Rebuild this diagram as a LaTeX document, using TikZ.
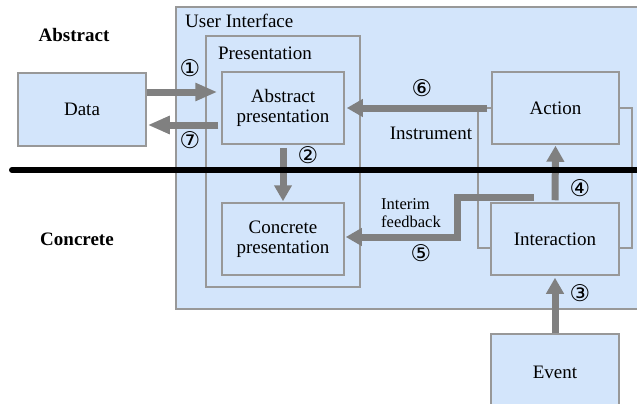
\documentclass[tikz,border=0pt]{standalone}
\usepackage{fontspec}
\setmainfont{Liberation Serif}
\newfontfamily\boxfont{Liberation Serif}
\newfontfamily\circfont{DejaVu Sans}
\usepackage{xcolor}
\usepackage{tikz}
\usetikzlibrary{positioning, shapes}
\usetikzlibrary{arrows.meta}
\definecolor{boxblue}{RGB}{211,229,251}
\definecolor{boxgray}{RGB}{152,152,152}
\definecolor{arrowgray}{RGB}{128,128,128}

\begin{document}
\begin{tikzpicture}[x=1pt,y=-1pt]
            \tikzset{box/.style = {draw=boxgray, fill=boxblue, line width=1.5pt, align=center, font=\boxfont\fontsize{19}{20}\selectfont}}
            \tikzset{frame/.style = {draw=boxgray, line width=1.5pt, inner sep=0pt}}
            \tikzset{lbl/.style = {font=\boxfont\fontsize{19}{20}\selectfont, inner sep=0pt}}
            \tikzset{bigedge/.style = {-{Triangle[length=16pt,width=17pt]}, line width=7pt, arrowgray}}
            \tikzset{longtip/.style = {-{Triangle[length=22pt,width=17pt]}}}
            \tikzset{num/.style = {font=\circfont\fontsize{23}{23}\selectfont, inner sep=0pt}}

            \useasboundingbox (0,0) rectangle (637,404);

            % frames
            \node[frame, fill=boxblue, minimum width=490pt, minimum height=302pt] (ui) at (421,158) {};
            \node[frame, minimum width=154pt, minimum height=251pt] (pres) at (283,161.5) {};
            \node[frame, line width=1.2pt, minimum width=154pt, minimum height=140pt] (instr) at (555,178) {};

            \node[lbl, anchor=west] (uilabel) at (185,21) {User Interface};
            \node[lbl] (preslabel) at (265,53) {Presentation};
            \node[lbl] (instrlabel) at (431,133) {Instrument};

            \node[lbl, font=\boxfont\bfseries\fontsize{19}{20}\selectfont] (abstract) at (74,35) {Abstract};
            \node[lbl, font=\boxfont\bfseries\fontsize{19}{20}\selectfont] (concrete) at (77,239) {Concrete};

            % boxes
            \node[box, minimum width=128pt, minimum height=73pt] (data) at (82,109.5) {Data};
            \node[box, minimum width=122pt, minimum height=72pt] (abspres) at (283,108) {Abstract\\presentation};
            \node[box, minimum width=122pt, minimum height=72pt] (concpres) at (283,239) {Concrete\\presentation};
            \node[box, minimum width=127pt, minimum height=72pt] (action) at (555.5,108) {Action};
            \node[box, minimum width=128pt, minimum height=72pt] (interaction) at (555,239) {Interaction};
            \node[box, minimum width=128pt, minimum height=76pt] (event) at (555,372) {Event};

            % arrows
            \draw[bigedge, longtip, shorten >=4pt] (data.east |- 0,92) -- (abspres.west |- 0,92);
            \draw[bigedge, longtip, shorten <=3pt, shorten >=1pt] (abspres.west |- 0,125) -- (data.east |- 0,125);
            \draw[bigedge, shorten <=3pt, shorten >=1pt] (abspres.south) -- (concpres.north);
            \draw[bigedge, shorten >=2pt] (event.north) -- (interaction.south);
            \draw[bigedge, shorten <=2pt, shorten >=1pt] (interaction.north) -- (action.south);
            \draw[bigedge, shorten <=4pt, shorten >=2pt] (action.west) -- (abspres.east);
            \draw[bigedge, shorten >=1pt] ([shift={(-21,-5)}]interaction.north) -| (457,237) -- (concpres.east |- 0,237);

            \node[font=\boxfont\fontsize{16.5}{18}\selectfont, align=left, inner sep=0pt, anchor=west] (interim) at (381,213) {Interim\\feedback};

            % divider
            \draw[line width=6pt, line cap=round] (12,170) -- (660,170);

            % step numbers
            \node[num] (n1) at (190,68) {①};
            \node[num] (n2) at (308,155) {②};
            \node[num] (n3) at (580,293) {③};
            \node[num] (n4) at (580,188) {④};
            \node[num] (n5) at (421,253) {⑤};
            \node[num] (n6) at (422,88) {⑥};
            \node[num] (n7) at (190,140) {⑦};

\end{tikzpicture}
\end{document}
